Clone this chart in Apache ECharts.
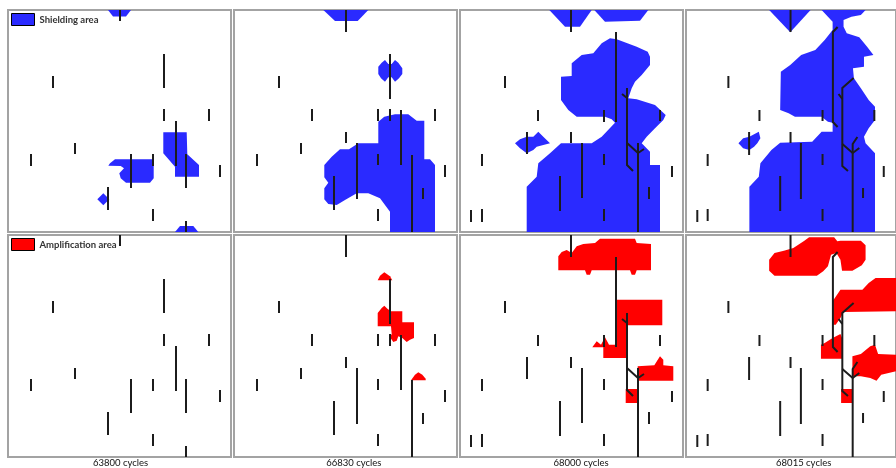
<!DOCTYPE html>
<html>
<head>
<meta charset="utf-8">
<script src="https://cdn.jsdelivr.net/npm/echarts@6/dist/echarts.min.js"></script>
<style>html,body{margin:0;padding:0;background:#fff}#c{width:896px;height:468px}</style>
</head>
<body>
<div id="c"></div>
<script>
// ---- data (panel-relative units: x 0..223, y 0..222 from top) ----
const cycleLabels = ['63800 cycles', '66830 cycles', '68000 cycles', '68015 cycles'];
const legendNames = ['Shielding area', 'Amplification area'];

// Shielding (blue) areas per cycle
const shield63800 = [
  [[100,0],[123,0],[118,6.5],[105,6.5]],
  [[107,149.3],[144.7,149.3],[145.7,151.7],[145.7,168.3],[142,172.7],[118,172.7],[112.7,168.3],[111.3,163.3],[116,158.3],[112.7,156],[100.3,155.7],[102,153.3]],
  [[155.3,122.3],[178.7,122.3],[179.3,144.3],[191,155],[191,166.7],[167,166.7],[167,156.7],[155.3,143.3]],
  [[89.3,189.3],[95.3,183.3],[101.3,189.3],[95.3,195.3]],
  [[167,222],[172,216],[185.3,216],[190.3,222]]
];
const shield66830 = [
  [[89.3,0],[134.3,0],[123.7,11],[101,11]],
  [[144.3,56.7],[147.7,52.7],[151,50],[154.3,54],[157.7,54],[161,50],[164.3,52.7],[168.3,58.3],[168.3,64],[165,68.3],[161,71.7],[157.7,67.3],[154.3,67.3],[151,71.7],[147,68.3],[144.3,64]],
  [[144.3,111.7],[150.3,106.7],[161,104.3],[174.3,104.3],[182.7,110.7],[190.3,110.7],[190.3,149.3],[196,149.3],[201,155],[201,222],[156,222],[156,201.7],[146,188.3],[134.3,183.3],[122.7,183.3],[111,190],[102.7,195],[94.3,194],[90.3,189.3],[90.3,178.3],[94.3,172.7],[90.3,167.3],[90.3,155],[97.7,146.7],[106,139.3],[115,139.3],[124.3,133.3],[144.3,133.3]]
];
const shield68000 = [
  [[89.3,0],[131.7,0],[120,16.7],[105,16.7]],
  [[134.3,0],[188.3,0],[180,10.7],[145,11.7]],
  [[150,28.3],[156.7,29.3],[176.7,36.7],[187.7,41.7],[190,46.7],[190,55],[181.7,65],[175,71.7],[171.7,78.3],[168.3,88.3],[176.7,89.3],[195,95],[205.7,105],[203.3,110],[195,118.3],[186.7,126.7],[181.7,133.3],[190,141.7],[190,155],[200,155],[200,222],[66.7,222],[66.7,176.7],[76.7,166.7],[78.3,153.3],[90,143.3],[101,133.3],[131.7,133.3],[141.7,126.7],[155,112.7],[151.7,109.3],[145,106.7],[116.7,106.7],[108.3,100],[101,90],[101,66.7],[111.7,66],[111.7,53.3],[121.7,45],[133.3,43.3],[141.7,33.3]],
  [[55,133.3],[60,129.3],[66.7,126.7],[73.3,126.7],[78.3,121.7],[83.3,126.7],[90,133.3],[83.3,135],[76.7,136.7],[73.3,140],[66.7,143.3],[60,138.3]]
];
const shield68015 = [
  [[88.3,0],[132.3,0],[110.7,22.3]],
  [[144,0],[155.7,11.7],[155.7,20],[147.3,30],[137.3,40],[122.3,45],[110.7,55],[100.7,61.7],[100,100],[109,103.3],[115.7,106.7],[144,106.7],[150.7,111.7],[155.7,112.7],[155.7,121.7],[144,121.7],[134,131.7],[100,132.7],[90.7,140],[79,153.3],[77.3,166.7],[67.3,176.7],[67.3,222],[200.7,222],[200.7,143.3],[190.7,133.3],[189,126.7],[194,118.3],[200.7,110],[200.7,96.7],[194,90],[185.7,78.3],[178.3,68.3],[177.3,58.3],[189,56.7],[189,46.7],[199,45],[192.3,36.7],[184,27.3],[170.7,23.3],[167.3,16.7],[167.3,10],[175.7,6.7],[185.7,5],[190.7,0]],
  [[55.7,133.3],[60.7,128.3],[67.3,126.7],[77.3,121.7],[79,128.3],[75.7,133.3],[72.3,136.7],[67.3,140],[60.7,138.3]]
];

// Amplification (red) areas per cycle
const amp63800 = [];
const amp66830 = [
  [[143.7,45.3],[146,40.7],[150.3,37.3],[156,41.3],[158.3,45.3]],
  [[143.7,91.3],[143.7,78],[147.7,73],[150.3,70.7],[153.7,74],[157,76.3],[168.3,76.3],[168.3,87.3],[180,87.3],[180,103],[176,104.7],[172.7,107],[168.3,103],[164.3,101.3],[162.7,105.7],[159.3,107],[156,102.3],[157.7,99],[157,91.3]],
  [[177,145.3],[181,139.7],[184.3,137.3],[188.3,139.7],[191.7,143.7],[191.7,145.3]]
];
const amp68000 = [
  [[98.3,21.3],[101.7,17],[106.7,15],[111.7,18],[116.7,11.3],[123.3,9],[135,8],[140,3.7],[175,3.7],[176.7,8],[191,9],[191,35.3],[176.7,35.3],[175,39.7],[171.7,39.7],[170,35.3],[131.7,35.3],[130,39.7],[126.7,39.7],[125,35.3],[98.3,35.3]],
  [[156.7,64.7],[202.3,64.7],[202.3,90.3],[166.7,90.3],[166.7,123],[143.3,123],[143.3,112.3],[132.3,112.3],[136.7,106.3],[141,109.7],[145,102.3],[149,109.7],[156.7,109.7]],
  [[177.7,131.3],[194.3,130.3],[200,121.3],[203.3,124.7],[203.3,130.3],[213.3,131.3],[213.3,145.7],[177.7,145.7]],
  [[165.7,154],[177.7,154],[177.7,168],[165.7,168]]
];
const amp68015 = [
  [[88.3,24.7],[94,18],[104,15.7],[114,13],[125.7,5.7],[130.7,2.3],[157.3,2.3],[160.7,6.3],[164,5.7],[185.7,5.7],[190.7,10.3],[190.7,24.7],[186.7,30.3],[176.7,35.7],[165.7,35.7],[164,24.7],[159.7,18],[154,19.7],[150.7,31.3],[145.7,36.3],[139,40.7],[94,40.7],[88.3,35.7]],
  [[155.7,66.3],[164,54.7],[187.3,54.7],[194,48],[201.3,43],[223,43],[223,76.3],[167.3,77],[164,83],[159,89.7],[155.7,89.7]],
  [[143.3,109.7],[147.3,108],[155.7,103],[164,99],[165.7,103],[165.7,123.7],[143.3,123.7]],
  [[176.7,121.3],[185.7,119],[195.7,111.3],[200.7,109.7],[204,119],[223,119.7],[223,136.3],[207.3,139.7],[202.3,145.7],[195.7,143],[185.7,141.3],[176.7,141.3]],
  [[164.7,154],[177.3,154],[177.3,168],[164.7,168]]
];

// Cracks (polylines) per cycle, shared by both rows
const cracks63800 = [
  [[45,66],[45,78]], [[156,44],[156,78]], [[156,99],[156,111]], [[201,99],[201,111]],
  [[168,111],[168,156]], [[67,133],[67,144]], [[23,144],[23,156]], [[123,144],[123,178]],
  [[145,144],[145,156]], [[178,144],[178,178]], [[212,155],[212,167]], [[100,177],[100,200]],
  [[145,199],[145,211]], [[178,211],[178,222]], [[112,0],[112,11]]
];
const cracks66830 = [
  [[112,0],[112,22]], [[156,44],[156,89]], [[45,66],[45,78]], [[78,99],[78,111]],
  [[144,99],[144,111]], [[156,99],[156,111]], [[201,99],[201,111]], [[167,100],[167,155]],
  [[112,122],[112,133]], [[67,133],[67,144]], [[23,144],[23,156]], [[123,133],[123,189]],
  [[144,144],[144,155]], [[178,145],[178,222]], [[211,155],[211,167]], [[100,166],[100,200]],
  [[189,178],[189,189]], [[144,199],[144,211]]
];
const cracks68000 = [
  [[111,0],[111,22]], [[156,22],[156,112]], [[45,66],[45,78]], [[162,84],[167,88]],
  [[167,78],[167,155],[173,161]], [[167,133],[178,143],[184,139]], [[178,133],[178,222]],
  [[78,100],[78,111]], [[144,100],[144,112]], [[200,100],[200,111]], [[67,122],[67,144]],
  [[111,122],[111,133]], [[22,144],[22,156]], [[122,133],[122,188]], [[144,144],[144,155]],
  [[212,156],[212,167]], [[100,166],[100,201]], [[189,177],[189,189]], [[11,200],[11,212]],
  [[22,199],[22,212]], [[144,199],[144,211]]
];
const cracks68015 = [
  [[111,0],[111,22]], [[161,17],[156,22],[156,112],[161,117]], [[45,66],[45,78]],
  [[178,68],[166,78],[166,156],[172,161]], [[162,84],[166,89]], [[166,134],[177,143],[184,138]],
  [[182,127],[177,134],[177,222]], [[78,100],[78,111]], [[145,100],[145,111]], [[200,100],[200,111]],
  [[67,122],[67,145]], [[111,122],[111,133]], [[23,144],[23,156]], [[122,133],[122,189]],
  [[145,144],[145,155]], [[210,156],[210,167]], [[100,166],[100,201]], [[188,178],[188,188]],
  [[12,200],[12,212]], [[23,199],[23,211]], [[145,199],[145,211]]
];

// ---- layout / style ----
const BLUE = '#2a2aff', RED = '#ff0000', CRACK = '#1c1c1c';
const colLeft = [8, 234, 460, 686], rowTop = [10, 235];
const PW = 223, PH = 222;
const labelX = [120.5, 353.8, 581, 803.7];
const shieldSets = [shield63800, shield66830, shield68000, shield68015];
const ampSets = [amp63800, amp66830, amp68000, amp68015];
const crackSets = [cracks63800, cracks66830, cracks68000, cracks68015];

const grid = [], xAxis = [], yAxis = [], series = [];
function polyRender(polys, color) {
  return function (params, api) {
    const pts = polys[api.value(0)].map(p => api.coord(p));
    return { type: 'polygon', shape: { points: pts }, style: { fill: color } };
  };
}
function lineRender(lines) {
  return function (params, api) {
    const pts = lines[api.value(0)].map(p => api.coord(p));
    return { type: 'polyline', shape: { points: pts }, style: { stroke: CRACK, lineWidth: 2, fill: null } };
  };
}
for (let r = 0; r < 2; r++) {
  for (let c = 0; c < 4; c++) {
    const gi = grid.length;
    grid.push({ left: colLeft[c], top: rowTop[r], width: PW, height: PH, show: true,
      borderColor: '#a3a3a3', borderWidth: 2, backgroundColor: '#fff' });
    xAxis.push({ gridIndex: gi, type: 'value', min: 0, max: PW, show: false });
    yAxis.push({ gridIndex: gi, type: 'value', min: 0, max: PH, inverse: true, show: false });
    const polys = r === 0 ? shieldSets[c] : ampSets[c];
    const color = r === 0 ? BLUE : RED;
    series.push({ type: 'custom', name: legendNames[r], xAxisIndex: gi, yAxisIndex: gi,
      itemStyle: { color: color }, silent: true, z: 2,
      renderItem: polyRender(polys, color), data: polys.map((_, i) => [i, 0]) });
    const lines = crackSets[c];
    series.push({ type: 'custom', name: 'cracks', xAxisIndex: gi, yAxisIndex: gi, silent: true, z: 3,
      renderItem: lineRender(lines), data: lines.map((_, i) => [i, 0]) });
  }
}
const legendText = { fontFamily: 'Lato', fontSize: 9.5, fontWeight: 'bold', color: '#333' };
const option = {
  animation: false,
  backgroundColor: '#fff',
  grid, xAxis, yAxis, series,
  legend: [
    { data: [{ name: legendNames[0], icon: 'rect', itemStyle: { color: BLUE, borderColor: '#000', borderWidth: 1 } }],
      left: 11, top: 13, padding: 0, itemWidth: 23, itemHeight: 12, itemGap: 4, selectedMode: false, textStyle: legendText },
    { data: [{ name: legendNames[1], icon: 'rect', itemStyle: { color: RED, borderColor: '#000', borderWidth: 1 } }],
      left: 11, top: 238, padding: 0, itemWidth: 23, itemHeight: 12, itemGap: 4, selectedMode: false, textStyle: legendText }
  ],
  graphic: cycleLabels.map((t, i) => ({ type: 'text', x: labelX[i], y: 463,
    style: { text: t, align: 'center', verticalAlign: 'middle', font: '9.5px Lato', fill: '#111' } }))
};
const chart = echarts.init(document.getElementById('c'), null, { renderer: 'canvas' });
chart.setOption(option);
</script>
</body>
</html>
